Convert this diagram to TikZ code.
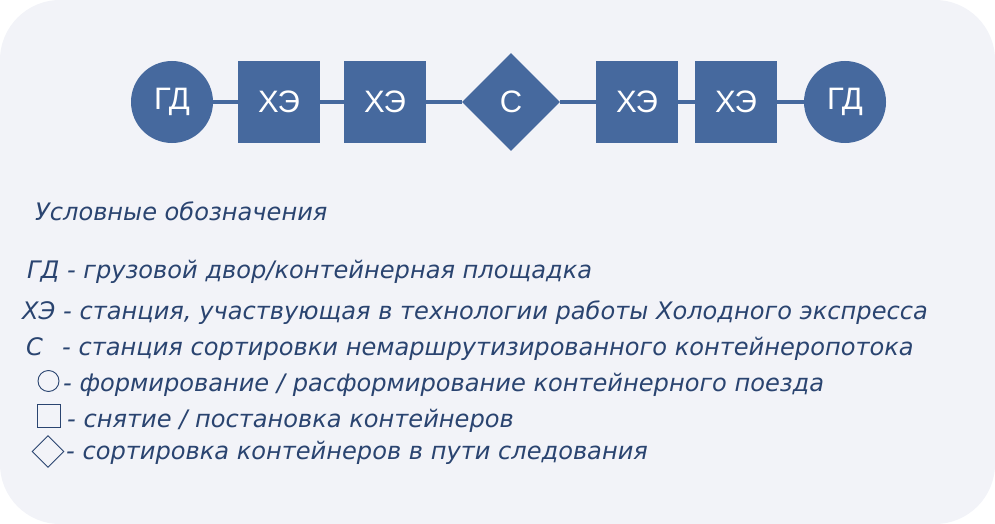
\documentclass[tikz,border=0pt]{standalone}
\usepackage{fontspec}
\setmainfont{Liberation Sans}
\newfontfamily\legendfont{DejaVu Sans}
\usetikzlibrary{shapes.geometric}

\definecolor{nodeblue}{HTML}{46699E}
\definecolor{legendnavy}{HTML}{2A4470}
\definecolor{panelgray}{HTML}{F2F3F8}

\tikzset{
	station/.style = {fill=nodeblue, text=white, inner sep=0pt, font=\fontsize{31}{31}\selectfont},
	yard/.style = {station, circle, minimum size=82pt},
	hub/.style = {station, minimum size=82pt},
	sorter/.style = {station, diamond, minimum size=98pt},
	link/.style = {nodeblue, line width=3.5pt},
	legend/.style = {anchor=base west, text=legendnavy, inner sep=0pt, font=\legendfont\itshape\fontsize{24.1}{24.1}\selectfont},
	sign/.style = {draw=legendnavy, line width=0.9pt, inner sep=0pt}
}

\begin{document}
\begin{tikzpicture}[x=1pt, y=-1pt]
	\useasboundingbox (0,0) rectangle (995,524);
	\fill [panelgray, rounded corners=60pt] (0,0) rectangle (995,524);

	% chain of stations
	\node [yard]   (gd1) at (172,102) {ГД};
	\node [hub]    (he1) at (279,102) {ХЭ};
	\node [hub]    (he2) at (385,102) {ХЭ};
	\node [sorter] (s)   at (511,102) {С};
	\node [hub]    (he3) at (637,102) {ХЭ};
	\node [hub]    (he4) at (736,102) {ХЭ};
	\node [yard]   (gd2) at (845,102) {ГД};
	\draw [link] (gd1) -- (he1);
	\draw [link] (he1) -- (he2);
	\draw [link] (he2) -- (s);
	\draw [link] (s) -- (he3);
	\draw [link] (he3) -- (he4);
	\draw [link] (he4) -- (gd2);

	% legend
	\node [legend] (title) at (35,220) {Условные обозначения};
	\node [legend] (lgd) at (27,278) {ГД - грузовой двор/контейнерная площадка};
	\node [legend] (lhe) at (22,319) {ХЭ - станция, участвующая в технологии работы Холодного экспресса};
	\node [legend] (ls) at (26,355) {\makebox[36pt][l]{С}- станция сортировки немаршрутизированного контейнеропотока};
	\node [sign, circle, minimum size=21pt] (mcirc) at (48.5,381) {};
	\node [legend] (lcirc) at (63,391) {- формирование / расформирование контейнерного поезда};
	\node [sign, minimum size=23pt] (msq) at (48.5,415.5) {};
	\node [legend] (lsq) at (67,427) {- снятие / постановка контейнеров};
	\node [sign, diamond, minimum size=32pt] (mdia) at (48,451.5) {};
	\node [legend] (ldia) at (66,459) {- сортировка контейнеров в пути следования};
\end{tikzpicture}
\end{document}
